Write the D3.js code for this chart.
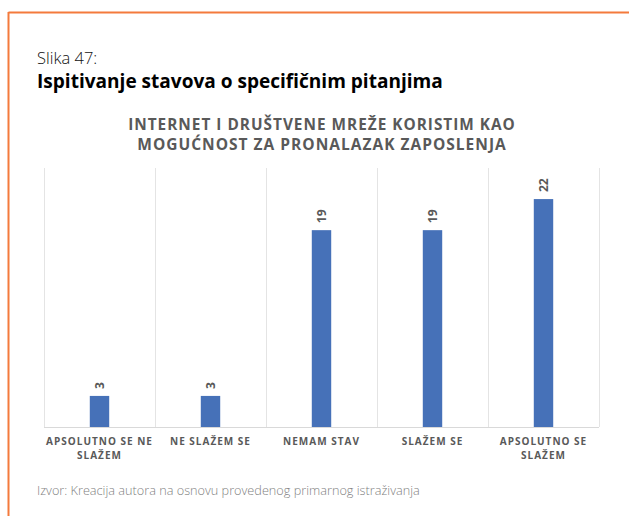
<!DOCTYPE html>
<html>
<head>
<meta charset="utf-8">
<script src="https://cdn.jsdelivr.net/npm/d3@7"></script>
<style>
  html, body { margin: 0; padding: 0; background: #fff; }
  svg { display: block; }
</style>
</head>
<body>
<svg id="chart" width="629" height="516"></svg>
<script>
const categories = [["APSOLUTNO SE NE", "SLAŽEM"], ["NE SLAŽEM SE"], ["NEMAM STAV"], ["SLAŽEM SE"], ["APSOLUTNO SE", "SLAŽEM"]];
const values = [3, 3, 19, 19, 22];
const figureLabel = "Slika 47:";
const figureTitle = "Ispitivanje stavova o specifičnim pitanjima";
const chartTitle = ["INTERNET I DRUŠTVENE MREŽE KORISTIM KAO", "MOGUĆNOST ZA PRONALAZAK ZAPOSLENJA"];
const sourceText = "Izvor: Kreacija autora na osnovu provedenog primarnog istraživanja";

const svg = d3.select("#chart");
const W = 629, H = 516;

function fit(sel, target) {
  const w = sel.node().getComputedTextLength();
  const fs = parseFloat(sel.attr("font-size"));
  sel.attr("font-size", (fs * target / w).toFixed(2));
}

// orange frame
svg.append("line").attr("x1", 8.5).attr("x2", W).attr("y1", 12.5).attr("y2", 12.5)
  .attr("stroke", "#f47a3c").attr("stroke-width", 2);
svg.append("line").attr("x1", 8.5).attr("x2", 8.5).attr("y1", 12).attr("y2", H)
  .attr("stroke", "#f47a3c").attr("stroke-width", 2);

// headings
svg.append("text").attr("x", 37).attr("y", 64).attr("font-family", "Open Sans")
  .attr("font-weight", 300).attr("font-size", 16.5).attr("fill", "#111").text(figureLabel);
const t2 = svg.append("text").attr("x", 37).attr("y", 88).attr("font-family", "Open Sans")
  .attr("font-weight", 700).attr("font-size", 17).attr("fill", "#000").text(figureTitle);
fit(t2, 406);

// chart title
const titleWidths = [389, 371];
chartTitle.forEach((s, i) => {
  const t = svg.append("text").attr("x", 322).attr("y", 130 + i * 20).attr("text-anchor", "middle")
    .attr("font-family", "Open Sans").attr("font-weight", 700).attr("font-size", 15)
    .attr("letter-spacing", 1).attr("fill", "#595959").text(s);
  fit(t, titleWidths[i]);
});

// scales
const x = d3.scaleBand().domain(d3.range(categories.length)).range([44, 599]).padding(0);
const y = d3.scaleLinear().domain([0, 25]).range([427, 168]);
const bw = x.bandwidth();
const barW = bw * 0.175;

// gridlines at category boundaries
const bounds = d3.range(categories.length + 1).map(i => i === categories.length ? x.range()[1] : x(i));
svg.append("g").selectAll("line").data(bounds).join("line")
  .attr("x1", d => d + 0.5).attr("x2", d => d + 0.5)
  .attr("y1", y(25)).attr("y2", y(0))
  .attr("stroke", "#e4e4e4").attr("stroke-width", 1);

// baseline
svg.append("line").attr("x1", x.range()[0]).attr("x2", x.range()[1])
  .attr("y1", y(0) + 0.5).attr("y2", y(0) + 0.5).attr("stroke", "#d9d9d9");

// bars
svg.append("g").selectAll("rect").data(values).join("rect")
  .attr("x", (d, i) => x(i) + bw / 2 - barW / 2)
  .attr("width", barW)
  .attr("y", d => y(d))
  .attr("height", d => y(0) - y(d))
  .attr("fill", "#4671b8");

// data labels rotated
svg.append("g").selectAll("text").data(values).join("text")
  .attr("transform", (d, i) => `translate(${x(i) + bw / 2 + 4.5},${y(d) - 7}) rotate(-90)`)
  .attr("font-family", "Open Sans").attr("font-weight", 700).attr("font-size", 12)
  .attr("fill", "#595959").attr("text-anchor", "start")
  .text(d => d);

// category labels
const cl = svg.append("g");
categories.forEach((lines, i) => {
  lines.forEach((s, j) => {
    cl.append("text").attr("x", x(i) + bw / 2).attr("y", 445 + j * 14)
      .attr("text-anchor", "middle").attr("font-family", "Open Sans").attr("font-weight", 700)
      .attr("font-size", 10).attr("letter-spacing", 1).attr("fill", "#595959").text(s);
  });
});

// source
const src = svg.append("text").attr("x", 37).attr("y", 495).attr("font-family", "Open Sans")
  .attr("font-weight", 300).attr("font-size", 12).attr("fill", "#7f7f7f").text(sourceText);
fit(src, 383);
</script>
</body>
</html>
